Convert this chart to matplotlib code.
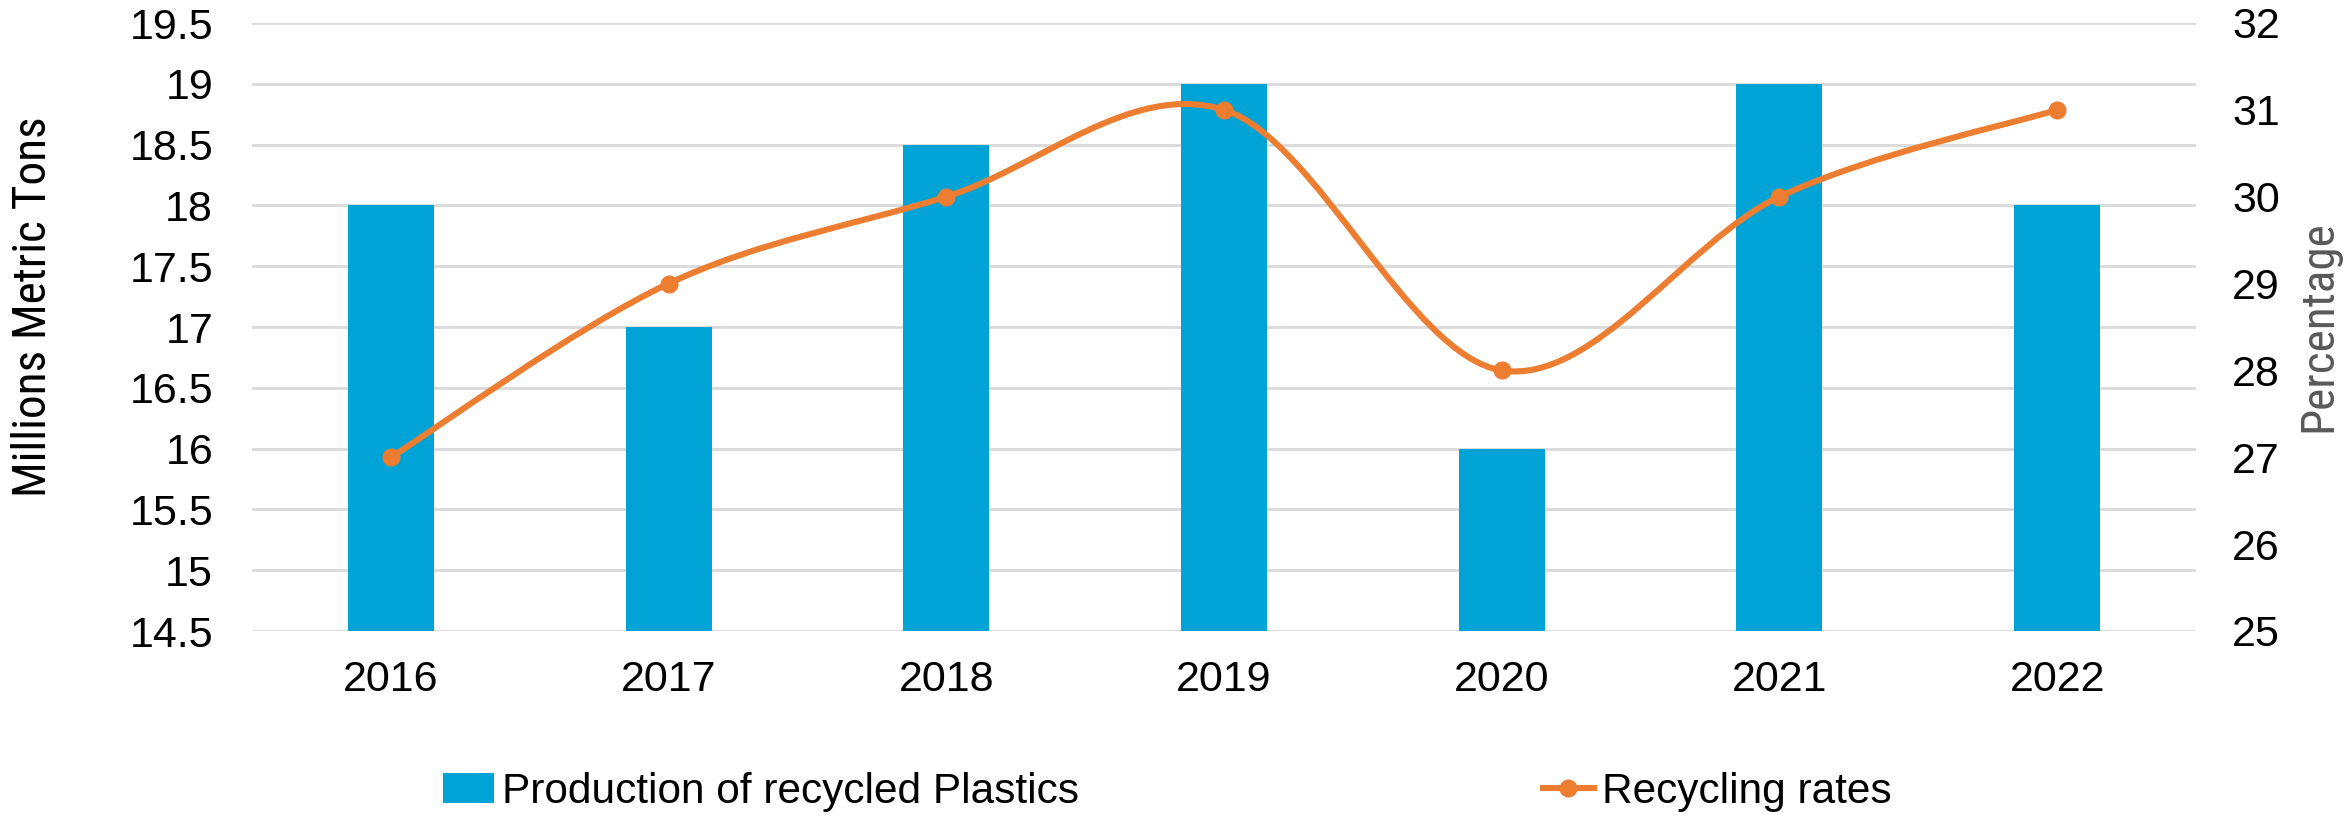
import matplotlib
matplotlib.use("Agg")
import matplotlib.pyplot as plt
from matplotlib import font_manager
from matplotlib.path import Path
from matplotlib.patches import PathPatch, Patch
from matplotlib.lines import Line2D
import numpy as np

years = ["2016", "2017", "2018", "2019", "2020", "2021", "2022"]
production = [18, 17, 18.5, 19, 16, 19, 18]          # million metric tons
recycling_rate = [27, 29, 30, 31, 28, 30, 31]        # percent

left_ticks = [14.5, 15, 15.5, 16, 16.5, 17, 17.5, 18, 18.5, 19, 19.5]
right_ticks = [25, 26, 27, 28, 29, 30, 31, 32]

BAR_COLOR = "#00A3D6"
LINE_COLOR = "#ED7D31"
GRID_COLOR = "#D9D9D9"
FS = 31

plt.rcParams["font.family"] = ["Liberation Sans", "DejaVu Sans"]

# axis titles use a narrow face when one is available
installed = {f.name for f in font_manager.fontManager.ttflist}
title_family, title_size = "Liberation Sans", 29.5
for name, size in [("Liberation Sans Narrow", 36), ("Roboto Condensed", 34),
                   ("Open Sans Condensed", 34), ("DejaVu Sans Condensed", 31)]:
    if name in installed:
        title_family, title_size = name, size
        break

W, H, DPI = 2344, 821, 100
fig = plt.figure(figsize=(W / DPI, H / DPI), dpi=DPI)
ax = fig.add_axes([252 / W, 1 - 631 / H, (2196 - 252) / W, (631 - 23) / H])
ax2 = ax.twinx()

x = np.arange(len(years))

# bars on the left axis
ax.bar(x, production, width=0.31, bottom=0, color=BAR_COLOR, zorder=2)
ax.set_ylim(left_ticks[0], left_ticks[-1])
ax.set_yticks(left_ticks)
ax.set_yticklabels([f"{t:g}" for t in left_ticks])
ax.set_xlim(-0.5, len(years) - 0.5)
ax.set_xticks(x)
ax.set_xticklabels(years)
ax.grid(axis="y", color=GRID_COLOR, linewidth=2.0, zorder=0)
ax.set_axisbelow(True)

# smoothed rate line on the right axis (Catmull-Rom style Bezier segments)
pts = np.column_stack([x, recycling_rate]).astype(float)
verts = [tuple(pts[0])]
codes = [Path.MOVETO]
n = len(pts)
for i in range(n - 1):
    p0 = pts[max(i - 1, 0)]
    p1 = pts[i]
    p2 = pts[i + 1]
    p3 = pts[min(i + 2, n - 1)]
    c1 = p1 + (p2 - p0) / 6.0
    c2 = p2 - (p3 - p1) / 6.0
    verts += [tuple(c1), tuple(c2), tuple(p2)]
    codes += [Path.CURVE4] * 3
curve = PathPatch(Path(verts, codes), fill=False, edgecolor=LINE_COLOR,
                  linewidth=4.4, capstyle="round", joinstyle="round",
                  transform=ax2.transData, zorder=3)
ax2.add_patch(curve)
ax2.plot(x, recycling_rate, linestyle="none", marker="o", markersize=12,
         color=LINE_COLOR, zorder=4)
ax2.set_ylim(right_ticks[0], right_ticks[-1])
ax2.set_yticks(right_ticks)

for a in (ax, ax2):
    for s in a.spines.values():
        s.set_visible(False)
    a.tick_params(length=0, labelsize=FS, colors="black")
ax.tick_params(axis="y", pad=28)
ax.tick_params(axis="x", pad=21)
ax2.tick_params(axis="y", pad=26)

fig.text(33 / W, 1 - 307 / H, "Millions Metric Tons", rotation=90,
         ha="center", va="center", fontsize=title_size, family=title_family,
         color="black")
fig.text(2318 / W, 1 - 326 / H, "Percentage", rotation=90,
         ha="center", va="center", fontsize=title_size, family=title_family,
         color="#595959")

# legend entries
bar_handle = Patch(facecolor=BAR_COLOR, edgecolor="none")
line_handle = Line2D([], [], color=LINE_COLOR, linewidth=4.4, marker="o",
                     markersize=12)
common = dict(frameon=False, fontsize=30.5, handlelength=1.2, handleheight=0.7,
              handletextpad=0.2, borderaxespad=0, borderpad=0)
fig.legend([bar_handle], ["Production of recycled Plastics"],
           loc="center left", bbox_to_anchor=(443 / W, 1 - 792 / H), **common)
fig.legend([line_handle], ["Recycling rates"],
           loc="center left", bbox_to_anchor=(1543 / W, 1 - 792 / H), **common)

fig.savefig("out.png", dpi=DPI)
